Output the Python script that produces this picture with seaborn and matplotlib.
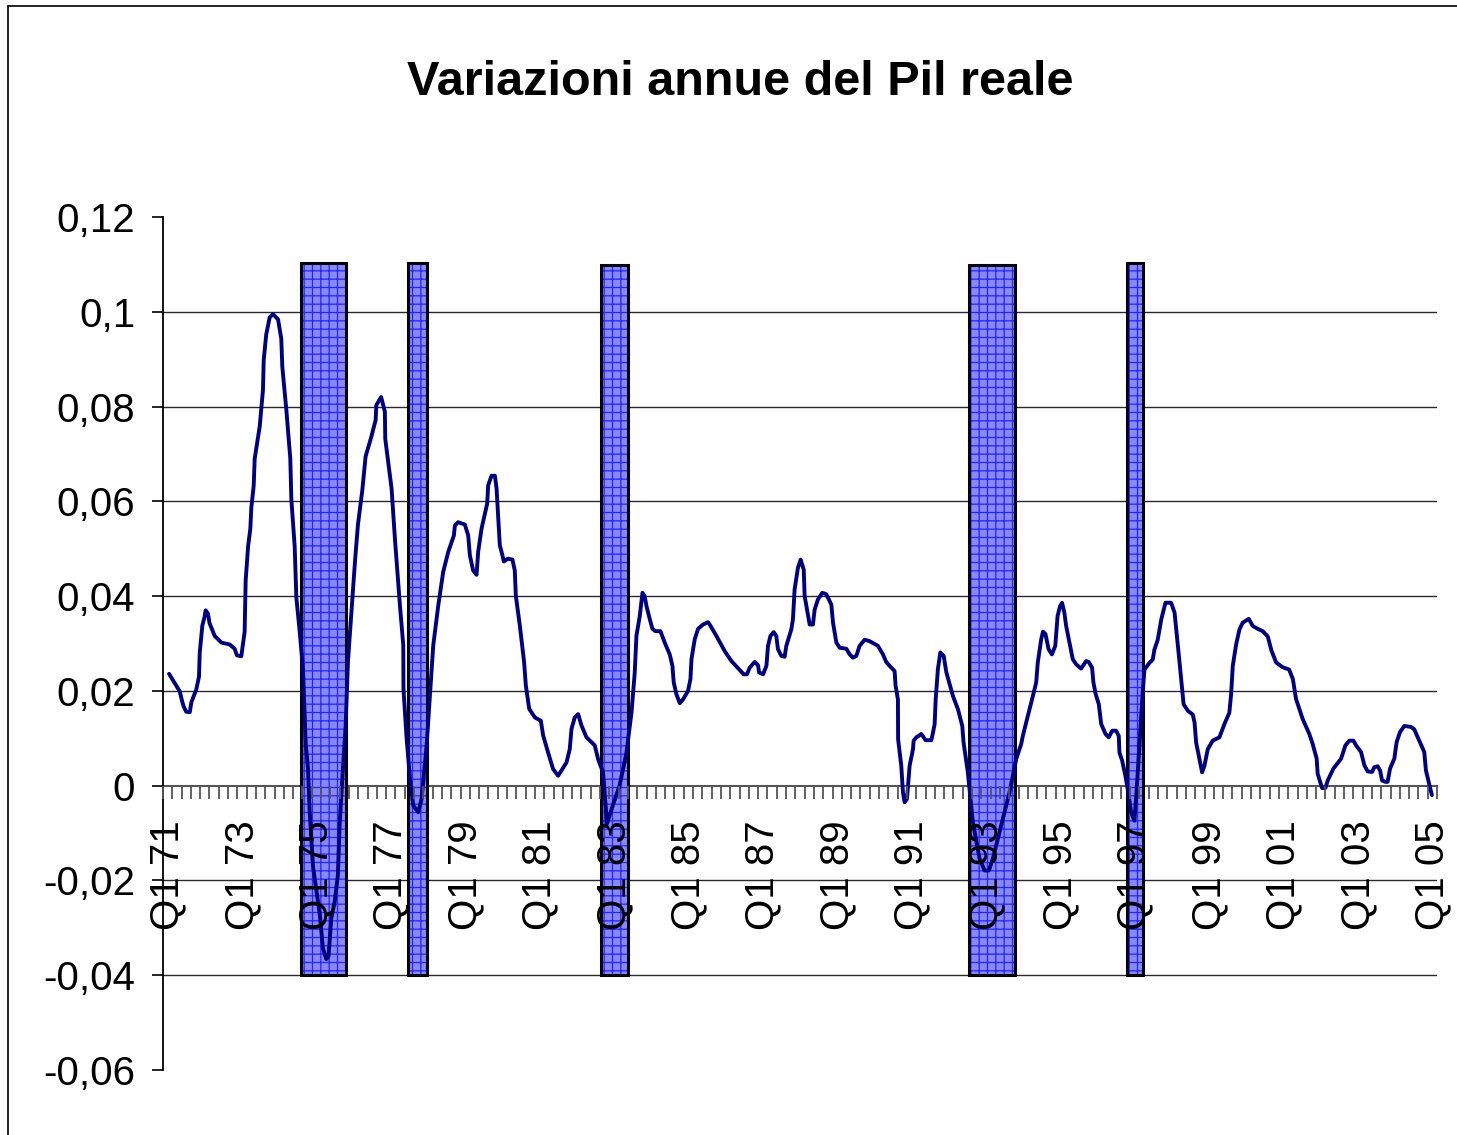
import matplotlib
matplotlib.use('Agg')
import matplotlib.pyplot as plt
import seaborn as sns
import numpy as np
import pandas as pd
from matplotlib.ticker import FuncFormatter
from matplotlib.lines import Line2D

# posizione in trimestri dal Q1 1971 (0 = Q1 71) e variazione annua del Pil
trimestre = [
    0.15, 1.30, 1.47, 1.70, 2.00, 2.38, 2.55, 3.08, 3.37, 3.45, 3.73, 3.98, 4.08, 4.34, 4.50,
    5.06, 5.77, 6.67, 7.20, 7.45, 7.92, 8.28, 8.39, 8.65, 8.89, 9.00, 9.25, 9.36, 9.90, 10.25,
    10.33, 10.60, 10.97, 11.33, 11.87, 12.22, 12.33, 12.76, 13.19, 13.30, 13.66, 13.84, 14.20,
    14.56, 14.84, 15.09, 15.27, 15.63, 16.35, 16.70, 17.06, 17.30, 17.60, 17.97, 18.30, 18.50,
    18.85, 19.14, 19.39, 19.74, 20.00, 20.20, 20.46, 20.93, 21.29, 21.90, 22.37, 22.44, 22.96,
    23.36, 23.40, 24.08, 24.44, 24.98, 25.34, 25.36, 25.70, 26.06, 26.41, 26.95, 27.31, 27.85,
    28.20, 28.56, 29.10, 29.63, 30.17, 30.78, 30.89, 31.24, 31.96, 32.32, 32.50, 32.85, 33.22,
    33.39, 33.75, 34.36, 34.47, 34.83, 35.19, 35.37, 35.72, 36.00, 36.15, 36.60, 37.08, 37.33,
    37.44, 37.87, 38.33, 38.52, 38.88, 39.49, 40.13, 40.38, 40.91, 41.45, 41.99, 42.35, 42.89,
    43.24, 43.43, 43.78, 44.14, 44.50, 45.04, 45.93, 46.29, 46.82,
    47.25, 47.90, 48.60, 49.34, 49.88, 50.23, 50.41, 50.77, 51.06, 51.30, 51.49, 51.85, 52.13,
    52.45, 52.99, 53.45, 53.99, 54.28, 54.42, 54.71, 55.07, 55.42, 55.96, 56.22, 56.33, 56.68,
    57.04, 57.57, 58.11, 58.29, 59.01, 59.90, 60.62, 61.52, 61.95, 62.30, 62.59, 63.13, 63.49,
    63.60, 64.03, 64.39, 64.56, 64.82, 65.17, 65.45, 65.63, 65.99, 66.35, 66.53, 67.07, 67.24,
    67.42, 67.78, 68.07, 68.40, 68.50, 69.04, 69.39, 69.58, 69.93, 70.40,
    70.83, 71.37, 71.55, 71.91, 72.27, 72.98, 73.34, 73.70, 74.06, 74.41, 74.95, 75.48, 76.38,
    76.92, 77.27, 77.63, 78.17, 78.28, 78.53, 78.55, 78.89, 79.07, 79.25, 79.50, 79.79, 80.15,
    80.22, 80.51, 81.05, 81.51, 82.12, 82.30, 82.48, 82.59, 82.83, 83.09, 83.45, 83.74, 84.45,
    84.99, 85.45, 85.59, 86.05, 86.59, 87.31, 87.85, 88.31, 88.74, 89.64, 90.53, 91.25, 91.79,
    91.96, 92.50, 93.04, 93.40, 93.57, 93.94, 94.13,
    94.40, 94.73, 95.09, 95.45, 95.70, 95.97, 96.18, 96.43, 96.62, 96.97, 97.33, 97.70, 98.23,
    98.77, 99.05, 99.41, 99.55, 99.80, 100.13, 100.39, 100.86, 101.20, 101.57, 101.99, 102.28,
    102.35, 102.64, 102.99, 103.24, 103.61, 103.96, 104.14, 104.50, 104.85, 105.04, 105.57,
    105.93, 106.11, 106.47, 106.84, 107.30, 107.91, 108.28, 108.46, 108.82, 109.25, 109.71,
    110.24, 110.43, 110.60, 110.95, 111.24, 111.49, 111.85, 112.38, 113.10, 113.64, 114.17,
    114.36, 114.54, 114.90, 115.26, 115.61, 116.26, 116.69, 117.22, 117.76,
    118.30, 118.70, 119.20, 119.90, 120.60, 121.00,
    121.34, 122.05, 122.77, 123.13, 123.56, 123.67, 124.14, 124.50, 124.75, 125.36, 126.19,
    126.65, 127.08, 127.51, 127.80, 128.33, 128.69, 129.05, 129.52, 129.76, 130.12, 130.38,
    130.59, 130.95, 131.19, 131.45, 131.91, 132.16, 132.52, 132.98, 133.70, 134.05, 134.59,
    135.13, 135.31, 135.95,
]
var_pil = [
    0.0236, 0.0199, 0.0185, 0.0168, 0.0156, 0.0155, 0.0176, 0.0203, 0.0230, 0.0280, 0.0338, 0.0357, 0.0370, 0.0363, 0.0343,
    0.0316, 0.0302, 0.0298, 0.0289, 0.0275, 0.0273, 0.0325, 0.0433, 0.0505, 0.0542, 0.0587, 0.0632, 0.0690, 0.0758, 0.0835,
    0.0898, 0.0952, 0.0988, 0.0995, 0.0984, 0.0943, 0.0884, 0.0794, 0.0690, 0.0605, 0.0505, 0.0397, 0.0325,
    0.0244, 0.0090, 0.0036, -0.0054, -0.0170, -0.0270, -0.0343, -0.0366, -0.0360, -0.0280, -0.0244, -0.0190, -0.0080,
    0.0036, 0.0126, 0.0262, 0.0361, 0.0433, 0.0487, 0.0550, 0.0623, 0.0695, 0.0736, 0.0772, 0.0803, 0.0820,
    0.0789, 0.0732, 0.0627, 0.0521, 0.0380, 0.0296, 0.0204, 0.0099, 0.0014, -0.0042, -0.0056, -0.0028, 0.0085,
    0.0190, 0.0296, 0.0380, 0.0451, 0.0493, 0.0528, 0.0549, 0.0556, 0.0551, 0.0528, 0.0486, 0.0454, 0.0445,
    0.0493, 0.0542, 0.0595, 0.0634, 0.0654, 0.0654, 0.0627, 0.0507, 0.0486, 0.0473, 0.0479, 0.0477, 0.0454,
    0.0401, 0.0338, 0.0261, 0.0211, 0.0162, 0.0144, 0.0137, 0.0106, 0.0070, 0.0035, 0.0021, 0.0032, 0.0049,
    0.0077, 0.0120, 0.0144, 0.0151, 0.0127, 0.0102, 0.0085, 0.0056, 0.0028,
    -0.0080, -0.0040, 0.0000, 0.0070, 0.0154, 0.0239, 0.0316, 0.0358, 0.0407, 0.0400, 0.0379, 0.0351, 0.0331,
    0.0326, 0.0326, 0.0302, 0.0277, 0.0253, 0.0218, 0.0193, 0.0174, 0.0182, 0.0200, 0.0225, 0.0267, 0.0309,
    0.0331, 0.0340, 0.0345, 0.0340, 0.0316, 0.0284, 0.0263, 0.0244, 0.0235, 0.0235, 0.0249, 0.0261, 0.0254,
    0.0239, 0.0235, 0.0253, 0.0295, 0.0316, 0.0324, 0.0316, 0.0288, 0.0274, 0.0272, 0.0295, 0.0330, 0.0351,
    0.0414, 0.0460, 0.0477, 0.0456, 0.0400, 0.0340, 0.0340, 0.0372, 0.0393, 0.0407,
    0.0404, 0.0382, 0.0344, 0.0302, 0.0291, 0.0289, 0.0277, 0.0270, 0.0274, 0.0295, 0.0308, 0.0305, 0.0295,
    0.0277, 0.0261, 0.0253, 0.0242, 0.0211, 0.0182, 0.0098, 0.0042, -0.0014, -0.0035, -0.0028, 0.0042, 0.0077,
    0.0095, 0.0102, 0.0109, 0.0096, 0.0096, 0.0112, 0.0130, 0.0182, 0.0246, 0.0281, 0.0274, 0.0239, 0.0189,
    0.0161, 0.0126, 0.0091, 0.0028, -0.0077, -0.0154, -0.0179, -0.0179, -0.0154, -0.0084, -0.0014, 0.0056, 0.0088,
    0.0105, 0.0147, 0.0189, 0.0218, 0.0260, 0.0309, 0.0325,
    0.0320, 0.0288, 0.0277, 0.0295, 0.0358, 0.0379, 0.0386, 0.0365, 0.0337, 0.0302, 0.0267, 0.0256, 0.0247,
    0.0263, 0.0261, 0.0249, 0.0218, 0.0193, 0.0172, 0.0130, 0.0109, 0.0102, 0.0116, 0.0116, 0.0105,
    0.0070, 0.0053, 0.0021, -0.0007, -0.0056, -0.0074, -0.0028, 0.0084, 0.0196, 0.0245, 0.0259,
    0.0266, 0.0287, 0.0308, 0.0350, 0.0386, 0.0386, 0.0365, 0.0330, 0.0259, 0.0172, 0.0158,
    0.0150, 0.0133, 0.0091, 0.0056, 0.0028, 0.0042, 0.0077, 0.0095, 0.0102, 0.0130, 0.0154,
    0.0193, 0.0253, 0.0298, 0.0330, 0.0344, 0.0352, 0.0337, 0.0331, 0.0326,
    0.0315, 0.0285, 0.0260, 0.0250, 0.0245, 0.0225,
    0.0183, 0.0141, 0.0109, 0.0088, 0.0057, 0.0025, -0.0005, -0.0005, 0.0011, 0.0036, 0.0057,
    0.0085, 0.0095, 0.0095, 0.0085, 0.0071, 0.0043, 0.0030, 0.0029, 0.0039, 0.0041, 0.0032,
    0.0011, 0.0008, 0.0008, 0.0036, 0.0057, 0.0092, 0.0113, 0.0126, 0.0124, 0.0119, 0.0095,
    0.0071, 0.0032, -0.0020,
]

etichette = ['Q1 71', 'Q1 73', 'Q1 75', 'Q1 77', 'Q1 79', 'Q1 81', 'Q1 83', 'Q1 85', 'Q1 87',
             'Q1 89', 'Q1 91', 'Q1 93', 'Q1 95', 'Q1 97', 'Q1 99', 'Q1 01', 'Q1 03', 'Q1 05']

# periodi di recessione (in trimestri) e altezza delle barre
rec_inizio = [14.30, 25.87, 46.58, 86.16, 103.14]
rec_fine = [19.14, 27.85, 49.51, 91.07, 104.86]
rec_top = [0.1103, 0.1103, 0.1099, 0.1099, 0.1103]
rec_base = -0.04

df = pd.DataFrame({'trimestre': trimestre, 'var': var_pil})

sns.set_style('white')
plt.rcParams['font.family'] = ['Liberation Sans', 'DejaVu Sans']
plt.rcParams['text.color'] = 'black'
plt.rcParams['hatch.linewidth'] = 0.9

W, H = 1457, 1135
fig = plt.figure(figsize=(W / 100, H / 100), dpi=100)
ax = fig.add_axes([163 / W, 1 - 1070 / H, (1437 - 163) / W, (1070 - 217) / H])

# griglia orizzontale (solo tra -0,04 e 0,1)
for g in [-0.04, -0.02, 0.02, 0.04, 0.06, 0.08, 0.1]:
    ax.axhline(g, color='#2a2a2a', linewidth=1.0, zorder=1)

# barre delle recessioni
centri = [(a + b) / 2 for a, b in zip(rec_inizio, rec_fine)]
larghezze = [b - a for a, b in zip(rec_inizio, rec_fine)]
altezze = [t - rec_base for t in rec_top]
ax.bar(centri, altezze, width=larghezze, bottom=rec_base, color='#8888ff',
       edgecolor='#2424ff', hatch='++', linewidth=0, zorder=3)
ax.bar(centri, altezze, width=larghezze, bottom=rec_base, fill=False,
       edgecolor='black', linewidth=2.2, zorder=3.1)

# serie del Pil
sns.lineplot(data=df, x='trimestre', y='var', sort=False, estimator=None,
             color='#000080', linewidth=2.8, ax=ax, zorder=4)

ax.set_xlim(-0.5, 136.5)
ax.set_ylim(-0.06, 0.12)
ax.set_xlabel('')
ax.set_ylabel('')

for s in ['top', 'right']:
    ax.spines[s].set_visible(False)
ax.spines['bottom'].set_position(('data', 0))
ax.spines['bottom'].set_color('#555555')
ax.spines['bottom'].set_linewidth(1.5)
ax.spines['bottom'].set_zorder(2)
ax.spines['left'].set_color('black')
ax.spines['left'].set_linewidth(1.3)

ax.set_yticks(np.round(np.arange(-0.06, 0.1201, 0.02), 2))
ax.yaxis.set_major_formatter(FuncFormatter(lambda v, p: ('%g' % (round(v, 4) + 0.0)).replace('.', ',')))
ax.tick_params(axis='y', direction='out', length=8, width=1.2, pad=12, labelsize=29,
               color='black', labelcolor='black', left=True)

ax.set_xticks(np.arange(len(etichette)) * 8, etichette)
ax.set_xticks(np.arange(-0.5, 137, 1), minor=True)
ax.tick_params(axis='x', which='major', length=0, pad=25, labelsize=29, labelrotation=90,
               labelcolor='black', bottom=True)
ax.tick_params(axis='x', which='minor', direction='out', length=9.5, width=1.3,
               color='#555555', bottom=True)
ax.grid(False)
# etichette dell'asse x sopra le barre
ax.xaxis.set_zorder(5)

fig.text(740 / W, 1 - 95 / H, 'Variazioni annue del Pil reale', ha='center', va='baseline',
         fontsize=35, fontweight='bold', color='black')

# bordo dell'area del grafico
fig.add_artist(Line2D([8 / W, 8 / W], [0, 1 - 6 / H], color='black', linewidth=1.2))
fig.add_artist(Line2D([8 / W, 1], [1 - 6 / H, 1 - 6 / H], color='black', linewidth=1.2))

fig.savefig('out.png', dpi=100)
